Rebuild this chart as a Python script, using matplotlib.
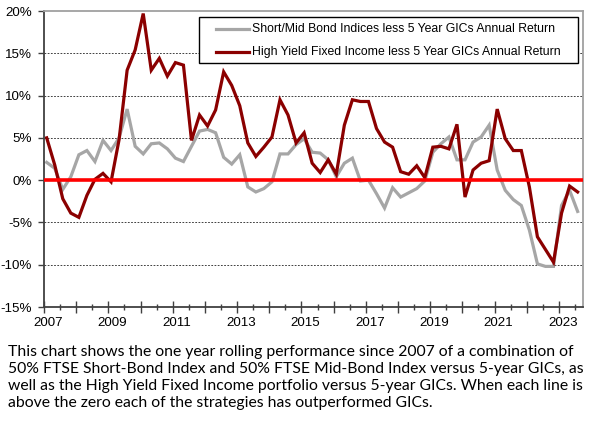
import numpy as np
import matplotlib
matplotlib.use("Agg")
import matplotlib.pyplot as plt
from matplotlib.patches import Rectangle
from matplotlib.lines import Line2D
import matplotlib.transforms as mtransforms

# ---- data (quarterly, starting early 2007) ----
start_year = 2007 + 1/12
step = 0.25
short_mid = [2.1, 1.4, -1.1, 0.4, 3.0, 3.5, 2.2, 4.7, 3.5, 5.0,
             8.4, 4.0, 3.1, 4.3, 4.4, 3.7, 2.6, 2.2, 4.0, 5.8,
             6.0, 5.6, 2.7, 1.9, 3.0, -0.8, -1.4, -1.0, -0.2, 3.1,
             3.1, 4.2, 4.9, 3.3, 3.2, 2.4, 0.4, 2.0, 2.6, -0.1,
             0.0, -1.6, -3.3, -0.9, -2.0, -1.5, -1.0, -0.1, 3.3, 4.3,
             5.1, 2.4, 2.4, 4.5, 5.1, 6.5, 1.2, -1.2, -2.3, -3.0,
             -5.9, -9.9, -10.2, -10.2, -3.0, -1.2, -3.7]
high_yield = [5.0, 1.8, -2.2, -3.9, -4.4, -1.8, 0.1, 0.8, -0.2, 4.8,
              13.0, 15.4, 19.7, 13.0, 14.4, 12.3, 13.9, 13.6, 4.7, 7.7,
              6.4, 8.3, 12.8, 11.2, 8.8, 4.4, 2.8, 3.9, 5.1, 9.5,
              7.7, 4.4, 5.6, 2.0, 0.9, 2.4, 0.7, 6.5, 9.5, 9.3,
              9.3, 6.1, 4.5, 3.9, 1.0, 0.7, 1.7, 0.3, 3.9, 4.0,
              3.7, 6.6, -2.0, 1.2, 2.0, 2.3, 8.4, 4.9, 3.5, 3.5,
              -0.8, -6.7, -8.2, -9.7, -3.9, -0.7, -1.4]
labels = ["Short/Mid Bond Indices less 5 Year GICs Annual Return",
          "High Yield Fixed Income less 5 Year GICs Annual Return"]
year_ticks = list(range(2007, 2024, 2))
y_ticks = [-15, -10, -5, 0, 5, 10, 15, 20]
caption = ["This chart shows the one year rolling performance since 2007 of a combination of",
           "50% FTSE Short-Bond Index and 50% FTSE Mid-Bond Index versus 5-year GICs, as",
           "well as the High Yield Fixed Income portfolio versus 5-year GICs. When each line is",
           "above the zero each of the strategies has outperformed GICs."]

x = start_year + step * np.arange(len(short_mid))

W, H = 591, 445
DPI = 100
fig = plt.figure(figsize=(W / DPI, H / DPI), dpi=DPI)
fig.patch.set_facecolor("white")

def fx(px):
    return px / W

def fy(py):
    return 1 - py / H

L, R, T, B = 44, 583, 11, 307
ax = fig.add_axes([fx(L), fy(B), fx(R) - fx(L), fy(T) - fy(B)])

axis_font = "Liberation Sans"
gray_c = "#A6A6A6"
red_c = "#8B0000"

ax.plot(x, short_mid, color=gray_c, lw=2.3, zorder=2, solid_joinstyle="miter")
ax.plot(x, high_yield, color=red_c, lw=2.3, zorder=2.5, solid_joinstyle="miter")
ax.axhline(0, color="#FF0000", lw=2.6, zorder=4)

ax.set_xlim(2007, 2023.75)
ax.set_ylim(-15, 20)

for yv in y_ticks:
    if yv not in (0, 20, -15):
        ax.axhline(yv, color="#404040", lw=0.7, ls=(0, (1.8, 1.5)), zorder=1)

ax.set_yticks(y_ticks)
ax.set_yticklabels([f"{v}%" for v in y_ticks], fontsize=9.6, family=axis_font)
ax.set_xticks(list(range(2007, 2024)))
ax.set_xticks(np.arange(2007.5, 2023.75, 1.0), minor=True)
ax.set_xticklabels([str(v) if v in year_ticks else "" for v in range(2007, 2024)],
                   fontsize=9.6, family=axis_font)

ax.tick_params(axis="y", direction="out", length=4, width=1, color="#404040", pad=4.5)
ax.tick_params(axis="x", which="major", direction="inout", length=8, width=1,
               color="#404040", pad=3)
ax.tick_params(axis="x", which="minor", direction="inout", length=5, width=1,
               color="#404040")

offset = mtransforms.ScaledTranslation(4 / DPI, 0, fig.dpi_scale_trans)
for lab in ax.get_xticklabels():
    lab.set_transform(lab.get_transform() + offset)

for s in ("left", "bottom"):
    ax.spines[s].set_color("#404040")
    ax.spines[s].set_linewidth(1.3)
for s in ("top", "right"):
    ax.spines[s].set_color("#A0A0A0")
    ax.spines[s].set_linewidth(1.3)

# legend box
rect = Rectangle((fx(199), fy(63)), fx(578) - fx(199), fy(17) - fy(63),
                 transform=fig.transFigure, facecolor="white", edgecolor="#000000",
                 lw=1.0, zorder=5)
fig.patches.append(rect)
for i, (lab, col) in enumerate(zip(labels, [gray_c, red_c])):
    yc = [28.5, 51.7][i]
    fig.add_artist(Line2D([fx(216), fx(249)], [fy(yc), fy(yc)], color=col, lw=2.3,
                          transform=fig.transFigure, zorder=6))
    fig.text(fx(252), fy(yc), lab, fontsize=8.8, family=axis_font, va="center",
             ha="left", zorder=6)

# caption
cap_font = "Lato"
cap_y = [351.7, 369.0, 386.0, 402.7]
target_w = 567
fs = 11.0
fig.canvas.draw()
renderer = fig.canvas.get_renderer()
t = fig.text(fx(8), fy(cap_y[0]), caption[0], fontsize=fs, family=cap_font, va="center")
w = t.get_window_extent(renderer).width
fs = fs * target_w / w
t.remove()
for line, yy in zip(caption, cap_y):
    fig.text(fx(8), fy(yy), line, fontsize=fs, family=cap_font, va="center", ha="left")

fig.savefig("out.png", dpi=DPI)
